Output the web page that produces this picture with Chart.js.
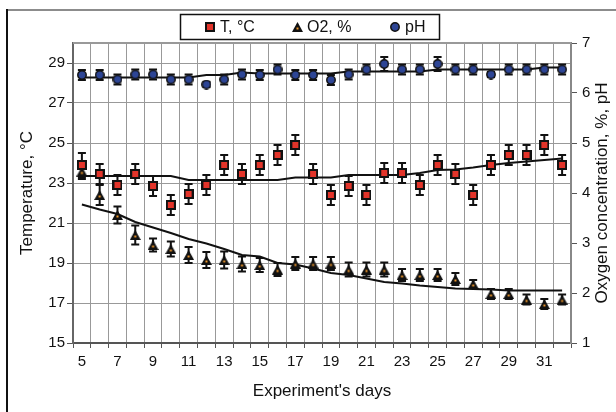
<!DOCTYPE html>
<html>
<head>
<meta charset="utf-8">
<script src="https://cdn.jsdelivr.net/npm/chart.js@4.4.1/dist/chart.umd.min.js"></script>
<style>
  html, body { margin: 0; padding: 0; background: #fff; }
</style>
</head>
<body>
<canvas id="chart" width="616" height="412"></canvas>
<script>
// experiment days (x categories)
const days = [5, 6, 7, 8, 9, 10, 11, 12, 13, 14, 15, 16, 17, 18, 19, 20, 21, 22, 23, 24, 25, 26, 27, 28, 29, 30, 31, 32];

// temperature, °C (left axis)
const tempValues = [23.9, 23.45, 22.9, 23.45, 22.85, 21.9, 22.45, 22.9, 23.9, 23.45, 23.9, 24.4, 24.9, 23.45, 22.4, 22.85, 22.4, 23.5, 23.5, 22.9, 23.9, 23.45, 22.4, 23.9, 24.4, 24.4, 24.9, 23.9];
const tempErr = [0.6, 0.5, 0.5, 0.5, 0.5, 0.5, 0.5, 0.5, 0.5, 0.5, 0.5, 0.5, 0.5, 0.5, 0.5, 0.5, 0.5, 0.5, 0.5, 0.5, 0.5, 0.5, 0.5, 0.5, 0.5, 0.5, 0.5, 0.5];
const tempTrend = [23.35, 23.35, 23.35, 23.35, 23.35, 23.35, 23.15, 23.15, 23.15, 23.15, 23.15, 23.15, 23.27, 23.27, 23.27, 23.4, 23.4, 23.4, 23.4, 23.5, 23.65, 23.68, 23.77, 23.9, 24.0, 24.07, 24.15, 24.23];

// oxygen, % (right axis)
const o2Values = [4.43, 3.96, 3.56, 3.16, 2.96, 2.88, 2.76, 2.66, 2.66, 2.58, 2.56, 2.47, 2.59, 2.59, 2.59, 2.47, 2.47, 2.47, 2.36, 2.36, 2.36, 2.28, 2.18, 1.98, 1.98, 1.87, 1.78, 1.87];
const o2Err = [0.15, 0.2, 0.17, 0.19, 0.13, 0.15, 0.16, 0.16, 0.17, 0.15, 0.14, 0.13, 0.13, 0.13, 0.13, 0.14, 0.14, 0.14, 0.12, 0.12, 0.12, 0.12, 0.08, 0.1, 0.1, 0.1, 0.1, 0.1];
const o2Trend = [3.77, 3.67, 3.58, 3.42, 3.31, 3.2, 3.08, 2.99, 2.88, 2.76, 2.73, 2.6, 2.57, 2.49, 2.4, 2.36, 2.29, 2.22, 2.19, 2.15, 2.12, 2.09, 2.08, 2.07, 2.05, 2.05, 2.05, 2.05];

// pH (right axis)
const phValues = [6.36, 6.36, 6.27, 6.37, 6.37, 6.27, 6.27, 6.17, 6.27, 6.37, 6.36, 6.47, 6.36, 6.36, 6.26, 6.37, 6.47, 6.58, 6.47, 6.47, 6.58, 6.47, 6.47, 6.37, 6.47, 6.47, 6.47, 6.47];
const phErr = [0.1, 0.1, 0.1, 0.1, 0.1, 0.1, 0.1, 0.05, 0.1, 0.1, 0.1, 0.1, 0.1, 0.1, 0.1, 0.1, 0.1, 0.14, 0.1, 0.1, 0.14, 0.1, 0.1, 0.05, 0.1, 0.1, 0.1, 0.1];
const phTrend = [6.31, 6.31, 6.31, 6.31, 6.31, 6.31, 6.31, 6.36, 6.36, 6.41, 6.39, 6.39, 6.39, 6.39, 6.39, 6.43, 6.43, 6.43, 6.43, 6.43, 6.47, 6.47, 6.47, 6.47, 6.47, 6.47, 6.51, 6.51];

// axis tick labels
const tempTicks = [15, 17, 19, 21, 23, 25, 27, 29];
const rightTicks = [1, 2, 3, 4, 5, 6, 7];

const FONT = '"Liberation Sans", Arial, sans-serif';
Chart.defaults.font.family = FONT;
Chart.defaults.color = '#111';

// marker images
function squareMarker() {
    const c = document.createElement('canvas');
    c.width = 10; c.height = 10;
    const g = c.getContext('2d');
    g.fillStyle = '#111';
    g.fillRect(0, 0, 10, 10);
    g.fillStyle = '#e3342a';
    g.fillRect(2, 2, 6, 6);
    return c;
}
function triangleMarker() {
    const c = document.createElement('canvas');
    c.width = 11; c.height = 10;
    const g = c.getContext('2d');
    g.fillStyle = '#111';
    g.beginPath();
    g.moveTo(5.5, 0); g.lineTo(11, 10); g.lineTo(0, 10);
    g.closePath();
    g.fill();
    g.fillStyle = '#f29a2e';
    g.fillRect(4.5, 5.5, 2, 2);
    return c;
}
function circleMarker() {
    const c = document.createElement('canvas');
    c.width = 10; c.height = 10;
    const g = c.getContext('2d');
    g.beginPath();
    g.arc(5, 5, 4.2, 0, Math.PI * 2);
    g.fillStyle = '#2d4595';
    g.fill();
    g.lineWidth = 1.5;
    g.strokeStyle = '#111';
    g.stroke();
    return c;
}

const markers = [squareMarker(), triangleMarker(), circleMarker()];

const errorBars = {
    id: 'errorBars',
    beforeDatasetsDraw(chart) {
        const ctx = chart.ctx;
        ctx.save();
        ctx.strokeStyle = '#111';
        ctx.lineWidth = 2;
        chart.data.datasets.forEach((ds, i) => {
            if (!ds.errors) return;
            const scale = chart.scales[ds.yAxisID];
            chart.getDatasetMeta(i).data.forEach((pt, j) => {
                const x = pt.x;
                const top = scale.getPixelForValue(ds.data[j] + ds.errors[j]);
                const bot = scale.getPixelForValue(ds.data[j] - ds.errors[j]);
                ctx.beginPath();
                ctx.moveTo(x, top); ctx.lineTo(x, bot);
                ctx.moveTo(x - 4, top); ctx.lineTo(x + 4, top);
                ctx.moveTo(x - 4, bot); ctx.lineTo(x + 4, bot);
                ctx.stroke();
            });
        });
        ctx.restore();
    }
};

const decorations = {
    id: 'decorations',
    beforeDraw(chart) {
        const ctx = chart.ctx;
        ctx.save();
        ctx.fillStyle = '#fff';
        ctx.fillRect(0, 0, chart.width, chart.height);
        // outer frame
        ctx.fillStyle = '#8c8c8c';
        ctx.fillRect(6, 9, chart.width - 6, 2);
        ctx.fillStyle = '#111';
        ctx.fillRect(6, 9, 2, chart.height - 9);
        ctx.restore();
    },
    afterDraw(chart) {
        const ctx = chart.ctx;
        const area = chart.chartArea;
        ctx.save();
        // top border of plot
        ctx.strokeStyle = '#999';
        ctx.lineWidth = 2;
        ctx.beginPath();
        ctx.moveTo(area.left, area.top);
        ctx.lineTo(area.right, area.top);
        ctx.stroke();

        // right axis title, reading upwards
        ctx.fillStyle = '#111';
        ctx.font = '17px ' + FONT;
        ctx.textAlign = 'center';
        ctx.textBaseline = 'middle';
        ctx.translate(602, (area.top + area.bottom) / 2);
        ctx.rotate(-Math.PI / 2);
        ctx.fillText('Oxygen concentration, %, pH', 0, 0);
        ctx.restore();

        // legend box
        ctx.save();
        ctx.strokeStyle = '#111';
        ctx.lineWidth = 1.5;
        ctx.strokeRect(180.5, 14.5, 259, 25);
        const itemX = [210, 297, 395];
        ctx.font = '16px ' + FONT;
        ctx.fillStyle = '#111';
        ctx.textBaseline = 'middle';
        for (let i = 0; i < 3; i++) {
            const img = markers[i];
            ctx.drawImage(img, Math.round(itemX[i] - img.width / 2), 22);
            ctx.fillText(chart.data.datasets[i].label, itemX[i] + 10, 27.5);
        }
        ctx.restore();
    }
};

const markerSet = (label, data, errors, axis, img) => ({
    label: label,
    data: data,
    errors: errors,
    yAxisID: axis,
    showLine: false,
    pointStyle: img,
    pointRadius: 5,
    pointHoverRadius: 5
});

const trendSet = (label, data, axis) => ({
    label: label,
    data: data,
    yAxisID: axis,
    borderColor: '#111',
    borderWidth: 2,
    pointRadius: 0,
    pointHoverRadius: 0,
    tension: 0,
    fill: false
});

new Chart(document.getElementById('chart'), {
    type: 'line',
    data: {
        labels: days,
        datasets: [
            markerSet('T, °C', tempValues, tempErr, 'yT', markers[0]),
            markerSet('O2, %', o2Values, o2Err, 'yR', markers[1]),
            markerSet('pH', phValues, phErr, 'yR', markers[2]),
            trendSet('T trend', tempTrend, 'yT'),
            trendSet('O2 trend', o2Trend, 'yR'),
            trendSet('pH trend', phTrend, 'yR')
        ]
    },
    options: {
        responsive: false,
        animation: false,
        layout: { padding: { top: 43, left: 8, right: 0, bottom: 0 } },
        plugins: {
            legend: { display: false },
            tooltip: { enabled: false }
        },
        scales: {
            x: {
                offset: true,
                grid: { offset: true, color: '#999', tickColor: '#555', tickLength: 5 },
                border: { color: '#555', width: 2 },
                ticks: {
                    autoSkip: false,
                    maxRotation: 0,
                    padding: 5,
                    font: { size: 15 },
                    callback: (v, i) => (days[i] % 2 ? String(days[i]) : '')
                },
                title: {
                    display: true,
                    text: "Experiment's days",
                    font: { size: 17 },
                    padding: { top: 0, bottom: 10 }
                },
                afterFit: s => { s.height = 69; }
            },
            yT: {
                position: 'left',
                min: 15,
                max: 30,
                afterBuildTicks: s => { s.ticks = tempTicks.map(v => ({ value: v })); },
                grid: { color: '#999', tickColor: '#555', tickLength: 6 },
                border: { color: '#666', width: 2 },
                ticks: { padding: 2, font: { size: 15 } },
                title: {
                    display: true,
                    text: 'Temperature, °C',
                    font: { size: 17 },
                    padding: { top: 9, bottom: 0 }
                },
                afterFit: s => { s.width = 65; }
            },
            yR: {
                position: 'right',
                min: 1,
                max: 7,
                afterBuildTicks: s => { s.ticks = rightTicks.map(v => ({ value: v })); },
                grid: { drawOnChartArea: false, tickColor: '#555', tickLength: 6 },
                border: { color: '#888', width: 2 },
                ticks: { padding: 5, font: { size: 15 } },
                afterFit: s => { s.width = 45; }
            }
        }
    },
    plugins: [errorBars, decorations]
});
</script>
</body>
</html>
